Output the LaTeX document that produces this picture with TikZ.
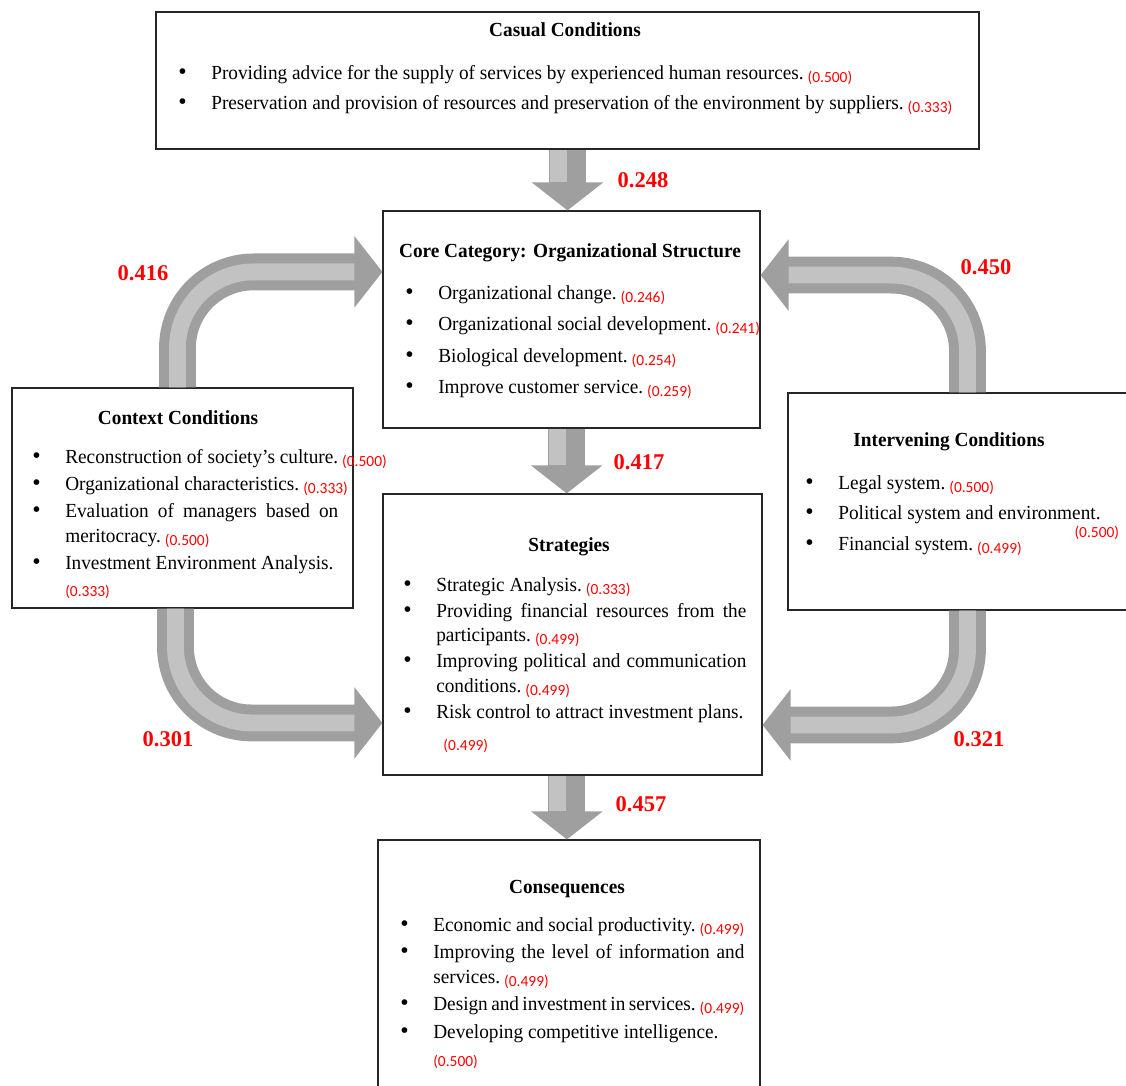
\documentclass[tikz,border=0pt]{standalone}
\usepackage{fontspec}
\setmainfont{Liberation Serif}[FakeStretch=0.965]
\newfontfamily\valfont{Carlito}
\newfontfamily\labfont{Liberation Serif}
\usetikzlibrary{arrows.meta,fit}

% bullet list helpers
\newlength{\bulind}
\setlength{\bulind}{0.825cm}
\let\bulpar\relax
\newcommand{\bul}{\bulpar\global\let\bulpar\par
  \hangindent=\bulind\hangafter=1\noindent
  \hbox to\bulind{{\labfont\fontsize{17}{17}\selectfont\textbullet}\hss}}
\newcommand{\val}[2][0.075cm]{\nobreak\hspace{0.1cm}%
  {\valfont\fontsize{11}{13}\selectfont\color{red}\raisebox{-#1}[0pt][0pt]{(#2)}}}
\newcommand{\nextline}{\hfil\break}

\tikzset{
  box/.style={draw=black!85, line width=0.8pt, inner sep=0pt},
  title/.style={font=\fontsize{14.2}{17.43}\selectfont\bfseries, anchor=base, inner sep=0pt},
  items/.style 2 args={font=\fontsize{14.2}{17.43}\selectfont, anchor=base west,
    inner sep=0pt, align=justify, text width=#1,
    execute at begin node={\setlength{\parskip}{#2}\global\let\bulpar\relax}},
  weight/.style={font=\labfont\fontsize{16}{18}\selectfont\bfseries, text=red},
  bigarrow/.style={draw=gray!75, line width=0.92cm,
    -{Triangle[length=0.7cm,width=1.75cm]}},
  glow/.style={draw=gray!48, line width=0.42cm, shorten >=0.7cm},
}

\begin{document}
\begin{tikzpicture}[x=0.025cm, y=-0.025cm]
    \useasboundingbox (0,0) rectangle (1126,1086);

    % Boxes
    \node[box, fit={(156,12) (979,149)}] (casual) {};
    \node[box, fit={(383,211) (760,428)}] (core) {};
    \node[box, fit={(12,388) (353,608)}] (context) {};
    \node[box, fit={(788,393) (1134,610)}] (intervening) {};
    \node[box, fit={(383,494) (762,775)}] (strategies) {};
    \node[box, fit={(378,840) (760,1092)}] (consequences) {};

    % Straight arrows
    \draw[bigarrow] (casual.south) -- (casual.south |- core.north);
    \draw[glow] ([xshift=-0.23cm]casual.south) -- ([xshift=-0.23cm]casual.south |- core.north);
    \draw[bigarrow] ([xshift=-0.12cm]core.south) -- ([xshift=-0.12cm]core.south |- strategies.north);
    \draw[glow] ([xshift=-0.35cm]core.south) -- ([xshift=-0.35cm]core.south |- strategies.north);
    \draw[bigarrow] ([xshift=-0.14cm]strategies.south) -- ([xshift=-0.14cm]strategies.south |- consequences.north);
    \draw[glow] ([xshift=-0.37cm]strategies.south) -- ([xshift=-0.37cm]strategies.south |- consequences.north);

    % Curved arrows
    \draw[bigarrow, rounded corners=1.9cm] ([xshift=4.15cm]context.north west) |- ([yshift=1.19cm]core.west);
    \draw[glow, rounded corners=1.9cm] ([xshift=4.15cm]context.north west) |- ([yshift=1.19cm]core.west);
    \draw[bigarrow, rounded corners=1.9cm] ([xshift=4.1cm]context.south west) |- ([yshift=-2.21cm]strategies.west);
    \draw[glow, rounded corners=1.9cm] ([xshift=4.1cm]context.south west) |- ([yshift=-2.21cm]strategies.west);
    \draw[bigarrow, rounded corners=1.9cm] ([xshift=4.5cm]intervening.north west) |- ([yshift=1.11cm]core.east);
    \draw[glow, rounded corners=1.9cm] ([xshift=4.5cm]intervening.north west) |- ([yshift=1.11cm]core.east);
    \draw[bigarrow, rounded corners=1.9cm] ([xshift=4.5cm]intervening.south west) |- ([yshift=-2.26cm]strategies.east);
    \draw[glow, rounded corners=1.9cm] ([xshift=4.5cm]intervening.south west) |- ([yshift=-2.26cm]strategies.east);

    % Weights
    \node[weight] (wcasual) at (643,180) {0.248};
    \node[weight] (wcontext) at (143,273) {0.416};
    \node[weight] (winter) at (986,267) {0.450};
    \node[weight] (wcore) at (639,462) {0.417};
    \node[weight] (wcontext2) at (168,739) {0.301};
    \node[weight] (winter2) at (979,739) {0.321};
    \node[weight] (wstrat) at (641,804) {0.457};

    % Casual conditions
    \node[title] (casualtitle) at (565,36) {Casual Conditions};
    \node[items={20cm}{0.16cm}] (casuallist) at (178,79) {%
        \bul Providing advice for the supply of services by experienced human resources.\val{0.500}
        \bul Preservation and provision of resources and preservation of the environment by suppliers.\val{0.333}\par};

    % Core category
    \node[title] (coretitle) at (570,257) {Core Category: Organizational Structure};
    \node[items={9cm}{0.175cm}] (corelist) at (405,299) {%
        \bul Organizational change.\val{0.246}
        \bul Organizational social development.\val{0.241}
        \bul Biological development.\val{0.254}
        \bul Improve customer service.\val{0.259}\par};

    % Context conditions
    \node[title] (contexttitle) at (178,424) {Context Conditions};
    \node[items={7.65cm}{0.07cm}] (contextlist) at (32,463) {%
        \bul \mbox{Reconstruction of society's culture.\val{0.500}}
        \bul \mbox{Organizational characteristics.\val{0.333}}
        \bul Evaluation of managers based on\linebreak meritocracy.\val{0.500}
        \bul Investment Environment Analysis.\nextline\val{0.333}\par};

    % Intervening conditions
    \node[title] (intertitle) at (949,446) {Intervening Conditions};
    \node[items={12cm}{0.16cm}] (interlist) at (805,489) {%
        \bul Legal system.\val{0.500}
        \bul Political system and environment.\rlap{\hspace{-0.75cm}\val[0.45cm]{0.500}}
        \bul Financial system.\val{0.499}\par};

    % Strategies
    \node[title] (strattitle) at (569,551) {Strategies};
    \node[items={8.575cm}{0.04cm}] (stratlist) at (403,591) {%
        \bul Strategic Analysis.\val{0.333}
        \bul Providing financial resources from the\linebreak participants.\val{0.499}
        \bul Improving political and communication\linebreak conditions.\val{0.499}
        \bul Risk control to attract investment plans.\nextline\hspace*{0.08cm}\val[0.2cm]{0.499}\par};

    % Consequences
    \node[title] (constitle) at (567,893) {Consequences};
    \node[items={8.6cm}{0.08cm}] (conslist) at (400,931) {%
        \bul Economic and social productivity.\val{0.499}
        \bul Improving the level of information and\linebreak services.\val{0.499}
        \bul Design and investment in services.\val{0.499}
        \bul Developing competitive intelligence.\nextline\val{0.500}\par};
\end{tikzpicture}
\end{document}
